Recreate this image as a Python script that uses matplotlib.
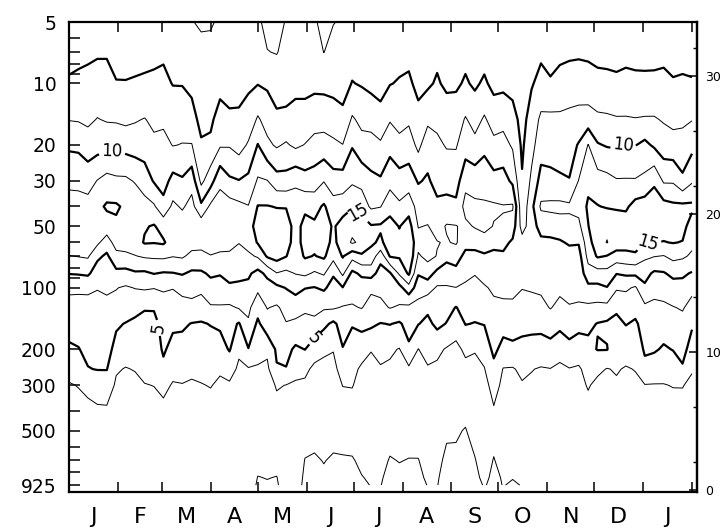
import numpy as np
import matplotlib
matplotlib.use("Agg")
import matplotlib.pyplot as plt
from matplotlib.ticker import FixedLocator, NullFormatter

# pressure levels (hPa) of the grid, top to bottom
levels_hpa = [5, 7, 10, 15, 20, 30, 40, 50, 60, 70, 85, 100, 125, 150,
              200, 250, 300, 400, 500, 700, 850, 925]

# sample days counted from 1 January (13 months shown)
days = [0, 6, 12, 18, 24, 30, 36, 42, 48, 54, 60, 66, 72, 78, 84, 90, 96,
        102, 108, 114, 120, 126, 132, 138, 144, 150, 156, 162, 168, 174,
        180, 186, 192, 198, 204, 210, 216, 222, 228, 234, 240, 246, 252,
        258, 264, 270, 276, 282, 288, 294, 300, 306, 312, 318, 324, 330,
        336, 342, 348, 354, 360, 366, 372, 378, 384, 390, 396]

# one vertical profile per sample day
profiles = [
    [3.5, 4.2, 5.3, 7.4, 9.6, 11.9, 13.6, 14.4, 14.0, 12.4, 10.1, 7.9, 6.8, 6.0, 4.6, 3.4, 2.3, 1.5, 1.0, 0.6, 0.5, 0.5],
    [3.5, 4.4, 5.5, 7.3, 9.5, 11.8, 13.6, 14.5, 14.1, 12.6, 10.2, 7.9, 6.7, 6.0, 4.9, 3.9, 2.6, 1.7, 1.0, 0.6, 0.5, 0.5],
    [3.6, 4.6, 5.6, 7.0, 8.7, 11.5, 13.4, 14.3, 13.8, 12.8, 10.4, 8.0, 6.6, 6.0, 5.6, 4.9, 3.0, 2.0, 1.0, 0.6, 0.5, 0.5],
    [3.7, 4.8, 5.7, 7.6, 9.0, 12.6, 14.4, 14.1, 13.0, 10.5, 8.8, 7.6, 6.8, 6.2, 5.7, 5.1, 3.4, 2.2, 1.1, 0.6, 0.5, 0.5],
    [3.8, 4.8, 5.7, 7.3, 9.2, 13.4, 15.3, 14.0, 11.2, 9.6, 8.8, 7.8, 7.0, 6.4, 5.8, 5.1, 3.6, 2.2, 1.1, 0.6, 0.5, 0.5],
    [3.6, 4.3, 5.1, 7.2, 9.4, 13.0, 15.3, 14.6, 13.6, 11.7, 9.4, 7.6, 6.7, 5.3, 4.3, 2.7, 2.2, 1.5, 1.0, 0.6, 0.5, 0.5],
    [3.5, 4.2, 5.1, 7.0, 9.0, 13.0, 14.6, 14.8, 14.0, 11.8, 9.3, 7.2, 6.2, 4.9, 3.4, 2.4, 2.0, 1.4, 1.0, 0.6, 0.5, 0.5],
    [3.5, 4.3, 5.2, 7.3, 8.8, 12.3, 14.3, 14.6, 13.9, 12.4, 9.7, 7.6, 5.6, 4.6, 3.6, 2.6, 2.0, 1.5, 1.0, 0.6, 0.5, 0.5],
    [3.6, 4.4, 5.3, 7.6, 8.8, 11.3, 13.4, 14.8, 15.2, 12.8, 9.6, 7.8, 5.1, 4.6, 4.0, 3.2, 2.4, 1.6, 1.0, 0.6, 0.5, 0.5],
    [3.7, 4.5, 5.4, 7.0, 8.0, 9.8, 12.8, 15.2, 15.1, 12.9, 10.1, 7.6, 5.2, 4.3, 3.8, 3.2, 2.55, 1.6, 1.0, 0.6, 0.5, 0.5],
    [3.8, 4.6, 5.6, 7.0, 8.3, 9.0, 10.8, 14.0, 15.3, 13.0, 9.8, 7.8, 6.4, 5.8, 5.3, 4.5, 3.1, 1.9, 1.0, 0.6, 0.5, 0.5],
    [3.7, 4.4, 4.9, 6.6, 7.4, 10.8, 13.0, 14.2, 13.8, 12.6, 9.9, 7.6, 6.3, 5.4, 4.3, 3.2, 2.3, 1.5, 1.0, 0.6, 0.5, 0.5],
    [3.6, 4.3, 4.9, 6.3, 7.6, 10.3, 12.2, 13.8, 14.2, 12.8, 10.2, 8.2, 6.6, 5.4, 4.1, 3.3, 2.4, 1.5, 1.0, 0.6, 0.5, 0.5],
    [2.6, 3.5, 4.4, 5.9, 7.6, 11.6, 13.3, 14.0, 13.4, 11.9, 9.6, 8.1, 7.0, 4.9, 3.9, 3.0, 2.2, 1.5, 1.0, 0.6, 0.5, 0.5],
    [2.2, 3.1, 3.7, 4.3, 5.3, 6.9, 10.5, 14.0, 13.6, 11.6, 9.7, 8.1, 6.3, 4.8, 3.9, 3.1, 2.4, 1.6, 1.0, 0.6, 0.5, 0.5],
    [2.3, 3.0, 3.6, 4.6, 5.4, 9.0, 13.0, 14.1, 13.6, 12.4, 10.3, 9.3, 7.2, 5.1, 4.0, 3.2, 2.6, 1.7, 1.0, 0.6, 0.5, 0.5],
    [2.8, 3.6, 4.3, 5.9, 7.2, 12.0, 13.5, 14.0, 13.6, 12.0, 10.2, 8.8, 7.3, 5.4, 4.0, 2.8, 2.1, 1.5, 1.0, 0.6, 0.5, 0.5],
    [2.8, 3.5, 4.1, 5.4, 7.3, 10.4, 13.6, 14.3, 13.4, 12.0, 10.6, 9.7, 7.1, 5.8, 5.2, 3.4, 2.2, 1.5, 1.0, 0.6, 0.5, 0.5],
    [2.8, 3.5, 4.2, 5.4, 6.5, 10.1, 13.1, 13.8, 12.6, 11.4, 10.5, 9.6, 7.7, 4.8, 2.9, 2.1, 1.8, 1.3, 0.9, 0.6, 0.5, 0.5],
    [2.8, 3.7, 4.6, 6.0, 7.8, 10.6, 12.6, 14.0, 13.5, 12.0, 10.4, 9.4, 8.0, 7.2, 4.9, 2.3, 1.8, 1.3, 0.9, 0.6, 0.5, 0.5],
    [2.8, 3.8, 4.9, 7.8, 10.1, 12.8, 15.1, 16.0, 15.2, 12.8, 9.2, 8.0, 6.0, 4.5, 3.2, 2.3, 1.8, 1.3, 0.9, 1.5, 2.6, 3.0],
    [2.0, 2.55, 4.6, 6.6, 8.0, 12.6, 15.1, 16.2, 15.9, 15.3, 10.6, 8.9, 7.6, 6.6, 3.0, 2.0, 1.6, 1.2, 1.0, 1.4, 2.4, 2.8],
    [2.0, 2.4, 3.6, 5.6, 7.2, 11.0, 14.9, 16.2, 16.5, 16.0, 12.4, 9.4, 7.2, 6.3, 5.4, 4.8, 2.7, 1.8, 1.0, 1.4, 2.6, 2.9],
    [2.6, 3.1, 4.1, 5.5, 7.8, 10.9, 14.9, 15.9, 15.8, 15.1, 11.9, 10.1, 8.2, 7.4, 5.7, 4.9, 2.45, 1.6, 1.0, 0.7, 0.8, 0.8],
    [2.8, 3.6, 4.4, 5.8, 7.0, 12.0, 13.8, 14.3, 14.2, 13.6, 12.6, 10.8, 8.6, 7.0, 4.6, 3.2, 2.2, 1.5, 1.0, 0.7, 0.8, 0.8],
    [2.7, 3.5, 4.4, 5.8, 7.6, 11.0, 14.6, 15.6, 15.7, 15.3, 13.0, 10.1, 7.9, 6.8, 5.05, 3.0, 2.1, 1.4, 1.3, 2.6, 3.1, 3.4],
    [2.7, 3.6, 4.4, 6.5, 8.3, 11.2, 14.2, 15.4, 15.6, 14.9, 12.2, 9.9, 8.3, 6.8, 3.6, 2.0, 1.6, 1.2, 1.6, 2.8, 3.2, 3.5],
    [2.0, 2.45, 4.3, 6.6, 8.4, 12.4, 15.3, 16.2, 16.0, 15.4, 12.8, 10.4, 7.8, 5.6, 2.9, 1.9, 1.6, 1.2, 1.4, 2.4, 2.9, 3.2],
    [2.4, 3.4, 4.2, 6.2, 8.0, 11.0, 13.6, 14.7, 14.4, 13.3, 10.3, 9.0, 7.8, 4.5, 2.6, 1.9, 1.6, 1.2, 1.6, 2.8, 3.3, 3.6],
    [2.8, 3.5, 4.1, 5.6, 7.55, 11.1, 13.9, 16.0, 16.2, 15.2, 13.0, 9.9, 7.3, 6.0, 4.9, 3.4, 2.55, 1.6, 1.2, 2.8, 3.4, 3.7],
    [3.1, 4.0, 5.1, 7.8, 9.8, 12.1, 14.8, 16.8, 17.8, 13.4, 9.4, 8.4, 7.3, 5.2, 3.8, 3.0, 2.6, 1.7, 1.3, 2.7, 3.3, 3.6],
    [3.0, 3.8, 4.8, 6.9, 8.3, 11.8, 13.9, 16.4, 17.0, 14.6, 10.5, 8.6, 7.6, 5.8, 3.3, 2.2, 1.8, 1.3, 1.1, 2.0, 2.6, 3.0],
    [2.7, 3.5, 4.3, 6.8, 8.2, 10.7, 12.1, 15.2, 15.4, 14.1, 11.0, 7.9, 6.7, 5.5, 2.6, 1.9, 1.6, 1.2, 1.0, 1.6, 2.2, 2.4],
    [2.8, 3.6, 4.3, 5.7, 7.9, 10.3, 12.4, 15.3, 14.6, 10.9, 9.0, 8.0, 7.0, 4.9, 3.2, 2.3, 1.8, 1.3, 1.1, 1.6, 2.2, 2.4],
    [3.0, 4.0, 4.9, 7.3, 9.2, 11.6, 14.2, 15.8, 16.0, 15.2, 9.7, 8.6, 7.6, 5.1, 2.8, 2.2, 1.8, 1.3, 1.3, 2.7, 3.3, 3.6],
    [3.3, 4.2, 5.2, 6.9, 8.0, 11.1, 12.9, 14.9, 15.6, 15.3, 12.9, 9.2, 7.2, 4.7, 2.4, 2.0, 1.7, 1.3, 1.2, 2.4, 3.1, 3.5],
    [3.2, 4.2, 5.5, 7.1, 8.7, 11.2, 14.0, 16.0, 17.0, 17.2, 15.4, 11.6, 6.9, 5.9, 4.6, 2.1, 1.7, 1.3, 1.3, 2.6, 3.2, 3.6],
    [3.1, 3.8, 4.2, 5.9, 6.9, 9.8, 11.5, 12.4, 13.3, 12.2, 10.2, 8.7, 6.6, 5.1, 2.45, 2.0, 1.7, 1.3, 1.2, 2.6, 3.2, 3.5],
    [3.0, 3.8, 4.6, 7.0, 8.9, 10.3, 11.4, 12.6, 13.4, 13.2, 11.1, 8.6, 5.5, 4.4, 3.3, 2.3, 1.8, 1.3, 1.0, 1.4, 2.0, 2.4],
    [3.6, 4.4, 5.3, 6.9, 8.0, 9.2, 10.5, 11.6, 12.6, 12.4, 9.3, 7.2, 6.3, 5.6, 3.0, 2.1, 1.8, 1.4, 1.6, 2.0, 2.3, 2.4],
    [3.1, 3.8, 4.5, 6.4, 7.3, 9.1, 10.8, 12.7, 12.3, 10.8, 8.6, 7.3, 5.8, 4.9, 2.3, 2.0, 1.8, 1.6, 2.2, 2.9, 3.3, 3.7],
    [3.2, 4.0, 4.6, 6.3, 7.3, 8.9, 10.6, 12.6, 12.8, 10.8, 9.4, 7.45, 4.9, 3.3, 2.1, 1.9, 1.8, 1.7, 2.3, 2.8, 3.2, 3.6],
    [3.4, 4.3, 5.3, 7.7, 8.8, 11.8, 13.3, 12.0, 10.6, 9.5, 8.1, 7.1, 5.9, 5.1, 2.8, 2.1, 1.8, 2.0, 2.6, 3.0, 3.4, 3.8],
    [3.2, 4.0, 4.6, 6.6, 8.2, 11.4, 13.0, 12.7, 10.9, 9.3, 7.6, 6.9, 5.9, 4.9, 2.6, 2.1, 1.8, 1.5, 1.8, 2.6, 3.0, 3.4],
    [3.0, 4.0, 5.4, 7.8, 9.3, 11.6, 12.8, 13.1, 11.6, 9.6, 8.2, 7.3, 6.2, 5.1, 3.4, 2.4, 1.8, 1.4, 1.3, 1.6, 2.0, 2.3],
    [2.9, 3.6, 4.3, 6.5, 8.1, 10.8, 12.8, 12.4, 10.6, 9.5, 8.8, 7.8, 7.1, 6.4, 5.6, 4.3, 3.3, 2.3, 1.8, 2.6, 3.0, 3.2],
    [2.9, 3.6, 4.4, 6.8, 8.3, 11.0, 12.6, 12.3, 10.7, 9.6, 8.7, 8.0, 7.1, 5.9, 4.2, 2.4, 2.0, 1.6, 1.5, 1.8, 2.3, 2.4],
    [2.9, 3.5, 4.2, 5.9, 7.2, 9.5, 12.8, 11.3, 9.6, 9.3, 8.6, 7.9, 7.2, 6.0, 4.5, 2.3, 2.0, 1.5, 1.3, 1.8, 2.4, 2.8],
    [2.8, 3.3, 3.8, 4.2, 4.6, 5.2, 5.6, 6.5, 8.5, 9.0, 8.4, 7.6, 6.4, 5.6, 4.4, 3.0, 2.3, 1.6, 1.3, 1.7, 2.2, 2.4],
    [3.4, 4.0, 4.8, 6.0, 6.7, 8.0, 9.3, 8.8, 9.0, 9.0, 8.5, 7.7, 6.8, 5.6, 4.2, 2.6, 2.1, 1.5, 1.2, 1.2, 1.4, 1.6],
    [4.0, 4.6, 5.7, 8.0, 8.9, 10.9, 12.9, 11.0, 9.4, 9.0, 8.5, 7.8, 7.0, 5.6, 4.1, 2.3, 1.9, 1.4, 1.1, 0.9, 0.8, 0.8],
    [3.8, 4.3, 5.2, 8.1, 8.7, 10.8, 13.0, 11.3, 9.4, 8.8, 8.3, 7.9, 7.6, 6.4, 4.0, 2.45, 1.9, 1.4, 1.0, 0.8, 0.7, 0.7],
    [3.9, 4.5, 5.7, 8.0, 8.7, 10.4, 13.1, 11.5, 9.7, 8.9, 8.4, 7.9, 7.0, 5.6, 3.5, 2.0, 1.7, 1.3, 1.0, 0.7, 0.6, 0.6],
    [3.9, 4.6, 6.0, 8.2, 9.0, 10.1, 12.9, 11.8, 10.3, 9.0, 8.4, 8.0, 7.4, 6.1, 4.3, 2.4, 1.9, 1.3, 1.0, 0.7, 0.6, 0.6],
    [3.9, 4.6, 6.3, 8.3, 10.2, 12.6, 13.3, 11.9, 10.2, 9.0, 8.4, 8.0, 7.3, 5.7, 3.8, 2.2, 1.8, 1.3, 1.0, 0.7, 0.6, 0.6],
    [3.8, 4.6, 5.9, 8.6, 12.6, 14.3, 15.4, 14.9, 14.0, 13.3, 11.5, 9.4, 7.0, 5.5, 4.4, 3.3, 2.7, 1.7, 1.0, 0.6, 0.5, 0.5],
    [3.6, 4.4, 5.6, 8.0, 10.2, 13.6, 15.1, 17.0, 16.6, 15.3, 11.5, 9.4, 6.8, 4.9, 5.1, 3.0, 1.9, 1.4, 1.0, 0.6, 0.5, 0.5],
    [3.6, 4.4, 5.5, 7.9, 9.8, 13.3, 14.8, 17.0, 17.6, 14.9, 11.6, 9.9, 6.8, 4.6, 5.1, 2.4, 1.9, 1.4, 1.0, 0.6, 0.5, 0.5],
    [3.5, 4.3, 5.4, 7.7, 9.7, 12.7, 14.7, 16.4, 16.4, 14.0, 10.1, 7.8, 5.4, 4.4, 3.4, 2.7, 2.2, 1.5, 1.0, 0.6, 0.5, 0.5],
    [3.5, 4.5, 5.5, 7.7, 10.05, 12.7, 14.6, 16.2, 16.0, 14.3, 10.4, 7.9, 5.9, 5.1, 3.6, 2.3, 2.0, 1.4, 1.0, 0.6, 0.5, 0.5],
    [3.6, 4.3, 5.5, 7.6, 9.9, 12.7, 15.9, 16.4, 16.0, 14.6, 10.5, 7.2, 5.7, 4.7, 3.6, 2.6, 2.0, 1.4, 1.0, 0.6, 0.5, 0.5],
    [3.6, 4.4, 5.4, 7.7, 10.6, 13.1, 16.2, 16.6, 15.1, 13.0, 10.8, 9.6, 7.0, 5.8, 5.3, 4.4, 2.4, 1.6, 1.0, 0.6, 0.5, 0.5],
    [3.6, 4.3, 5.5, 7.7, 9.6, 14.6, 16.3, 16.4, 15.1, 12.6, 9.6, 8.2, 7.0, 5.9, 5.3, 3.6, 2.4, 1.6, 1.0, 0.6, 0.5, 0.5],
    [3.6, 4.5, 5.5, 7.3, 8.6, 12.2, 15.9, 16.0, 14.9, 12.4, 9.8, 8.4, 7.1, 6.2, 4.7, 3.5, 2.4, 1.6, 1.0, 0.6, 0.5, 0.5],
    [3.5, 4.2, 5.2, 6.9, 8.4, 12.2, 15.5, 16.0, 15.1, 13.2, 10.6, 9.0, 7.4, 6.3, 5.1, 3.7, 2.6, 1.6, 1.0, 0.6, 0.5, 0.5],
    [3.5, 4.3, 5.3, 7.1, 8.3, 10.5, 15.6, 15.8, 14.9, 12.9, 10.4, 9.2, 7.7, 6.8, 5.8, 4.7, 2.6, 1.7, 1.0, 0.6, 0.5, 0.5],
    [3.5, 4.2, 5.2, 7.4, 9.3, 12.2, 15.5, 13.9, 13.1, 12.1, 9.8, 8.1, 6.7, 5.3, 4.0, 2.7, 2.0, 1.4, 1.0, 0.6, 0.5, 0.5],
]

thin_levels = [2.5, 7.5, 12.5, 17.5]
thick_levels = [5, 10, 15, 20]

# where the contour labels sit (day, log10 p)
label_spots = {
    5: [(53, 2.20), (154, 2.23)],
    10: [(27, 1.30), (352, 1.30)],
    15: [(184, 1.63), (368, 1.76)],
}

# axis labels
month_ends = [31, 59, 90, 120, 151, 181, 212, 243, 273, 304, 334, 365, 396]
month_mids = [15.5, 45, 74.5, 105, 135.5, 166, 196.5, 227.5, 258, 288.5, 319, 349.5, 380.5]
month_labels = ["J", "F", "M", "A", "M", "J", "J", "A", "S", "O", "N", "D", "J"]
p_labelled = [5, 10, 20, 30, 50, 100, 200, 300, 500, 925]
p_minor = [6, 7, 8, 9, 40, 60, 70, 80, 90, 400, 600, 700, 800]
km_major = [0, 10, 20, 30]
km_minor = [2, 6, 14, 22, 26, 32]

field = np.array(profiles).T
logp = np.log10(levels_hpa)

fig = plt.figure(figsize=(7.25, 5.29), dpi=100)
ax = fig.add_axes([0.0952, 0.0699, 0.8662, 0.8885])

ax.contour(days, logp, field, levels=thin_levels, colors="k", linewidths=0.7)
for lev in thick_levels:
    if field.max() <= lev:
        continue
    cs = ax.contour(days, logp, field, levels=[lev], colors="k", linewidths=1.6)
    if lev in label_spots:
        ax.clabel(cs, fmt="%g", fontsize=12, inline=True, inline_spacing=3,
                  manual=label_spots[lev])

ax.set_xlim(0, 399.2)
ax.set_ylim(np.log10(1000), np.log10(5))

ax.yaxis.set_major_locator(FixedLocator(np.log10(p_labelled)))
ax.set_yticklabels([str(p) for p in p_labelled])
ax.yaxis.set_minor_locator(FixedLocator(np.log10(p_minor)))
ax.tick_params(axis="y", which="both", direction="in", length=8, width=1.1,
               left=True, right=False, labelsize=13.5, pad=9)

ax.xaxis.set_major_locator(FixedLocator(month_ends))
ax.xaxis.set_major_formatter(NullFormatter())
ax.set_xticks(month_mids, minor=True)
ax.set_xticklabels(month_labels, minor=True)
ax.tick_params(axis="x", which="major", direction="in", length=7, width=1.1,
               top=True, bottom=True)
ax.tick_params(axis="x", which="minor", length=0, labelsize=16, pad=11)

for s in ax.spines.values():
    s.set_linewidth(1.6)


# height scale on the right (km)
def p_to_km(y):
    return 6.43 * np.log(977.0 / 10 ** np.asarray(y, dtype=float))


def km_to_p(z):
    return np.log10(977.0 * np.exp(-np.asarray(z, dtype=float) / 6.43))


sec = ax.secondary_yaxis("right", functions=(p_to_km, km_to_p))
sec.set_yticks(km_major)
sec.yaxis.set_minor_locator(FixedLocator(km_minor))
sec.yaxis.set_minor_formatter(NullFormatter())
sec.tick_params(which="major", direction="in", length=6, width=1.1, labelsize=9, pad=6)
sec.tick_params(which="minor", direction="in", length=3, width=1.0)
sec.spines["right"].set_linewidth(1.6)

fig.savefig("out.png", dpi=100)
